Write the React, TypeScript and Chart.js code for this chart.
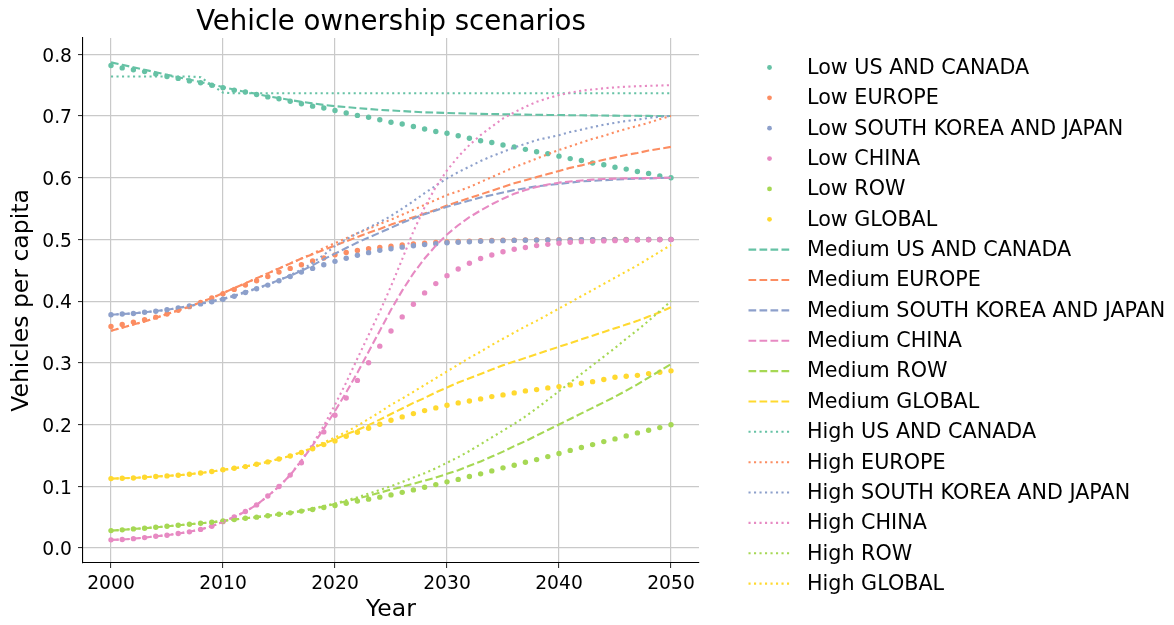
import React, { useEffect, useRef } from "react";
import { Chart, registerables } from "chart.js";

Chart.register(...registerables);

// ---- data -----------------------------------------------------------------
const YEARS = Array.from({ length: 51 }, (_, i) => 2000 + i);
const X_TICKS = [2000, 2010, 2020, 2030, 2040, 2050];
const Y_TICKS = [0, 0.1, 0.2, 0.3, 0.4, 0.5, 0.6, 0.7, 0.8];
const REGIONS = ["US AND CANADA", "EUROPE", "SOUTH KOREA AND JAPAN", "CHINA", "ROW", "GLOBAL"];
const SCENARIOS = ["Low", "Medium", "High"];

const LOW_US = [
  0.782, 0.778, 0.775, 0.772, 0.768, 0.764, 0.761, 0.757, 0.754, 0.750,
  0.746, 0.742, 0.739, 0.735, 0.731, 0.728, 0.724, 0.720, 0.716, 0.713,
  0.709, 0.705, 0.701, 0.698, 0.694, 0.690, 0.687, 0.683, 0.679, 0.675,
  0.672, 0.668, 0.664, 0.660, 0.657, 0.653, 0.650, 0.646, 0.642, 0.639,
  0.635, 0.631, 0.628, 0.624, 0.621, 0.617, 0.614, 0.610, 0.607, 0.603,
  0.600,
];
const LOW_EU = [
  0.359, 0.362, 0.366, 0.370, 0.374, 0.379, 0.385, 0.391, 0.398, 0.405,
  0.412, 0.419, 0.426, 0.433, 0.440, 0.447, 0.453, 0.459, 0.465, 0.470,
  0.475, 0.479, 0.482, 0.485, 0.487, 0.489, 0.491, 0.4925, 0.494, 0.495,
  0.496, 0.4967, 0.4973, 0.4978, 0.4982, 0.4986, 0.4988, 0.499, 0.4992, 0.4993,
  0.4994, 0.4995, 0.4996, 0.4997, 0.4997, 0.4998, 0.4998, 0.4999, 0.4999, 0.5,
  0.5,
];
const LOW_KR = [
  0.378, 0.379, 0.380, 0.382, 0.3835, 0.386, 0.389, 0.392, 0.3955, 0.399,
  0.403, 0.408, 0.414, 0.420, 0.426, 0.433, 0.440, 0.447, 0.453, 0.459,
  0.4645, 0.4694, 0.4743, 0.4786, 0.4823, 0.485, 0.4875, 0.4898, 0.4916, 0.493,
  0.4945, 0.4955, 0.4963, 0.497, 0.4976, 0.498, 0.4984, 0.4987, 0.4989, 0.4991,
  0.4992, 0.4993, 0.4994, 0.4995, 0.4996, 0.4997, 0.4997, 0.4998, 0.4998, 0.4999,
  0.5,
];
const LOW_CN = [
  0.013, 0.0135, 0.015, 0.0167, 0.0188, 0.0205, 0.0232, 0.026, 0.030, 0.035,
  0.0425, 0.050, 0.059, 0.0697, 0.084, 0.0994, 0.118, 0.138, 0.162, 0.188,
  0.215, 0.243, 0.2715, 0.300, 0.327, 0.3515, 0.3744, 0.3948, 0.4133, 0.4284,
  0.4413, 0.452, 0.4615, 0.469, 0.4748, 0.480, 0.484, 0.487, 0.490, 0.492,
  0.4937, 0.4953, 0.4964, 0.497, 0.4976, 0.498, 0.4987, 0.499, 0.4993, 0.4995,
  0.4997,
];
const LOW_ROW = [
  0.028, 0.0292, 0.0308, 0.0318, 0.0334, 0.035, 0.0367, 0.0383, 0.0399, 0.0415,
  0.0437, 0.0459, 0.048, 0.0498, 0.052, 0.0545, 0.0568, 0.0596, 0.0622, 0.0655,
  0.0688, 0.0723, 0.0758, 0.079, 0.0822, 0.0859, 0.090, 0.094, 0.0982, 0.1026,
  0.107, 0.111, 0.1156, 0.120, 0.1248, 0.1297, 0.134, 0.1388, 0.1431, 0.148,
  0.153, 0.158, 0.1626, 0.1674, 0.1723, 0.1767, 0.1815, 0.1864, 0.1906, 0.195,
  0.1995,
];
const LOW_GL = [
  0.1123, 0.1128, 0.1134, 0.1145, 0.1156, 0.1167, 0.1177, 0.1193, 0.1215, 0.1237,
  0.1266, 0.129, 0.1318, 0.1355, 0.1394, 0.1442, 0.149, 0.1545, 0.1607, 0.1674,
  0.1734, 0.181, 0.1874, 0.194, 0.2004, 0.2068, 0.2123, 0.2177, 0.2225, 0.2269,
  0.2311, 0.235, 0.2382, 0.2415, 0.2452, 0.248, 0.2512, 0.2545, 0.2566, 0.2593,
  0.2614, 0.2642, 0.2668, 0.2695, 0.273, 0.2765, 0.2781, 0.2797, 0.2825, 0.2846,
  0.287,
];

const MED_US = [
  0.787, 0.783, 0.779, 0.775, 0.771, 0.767, 0.763, 0.759, 0.755, 0.751,
  0.747, 0.743, 0.739, 0.736, 0.732, 0.729, 0.726, 0.723, 0.7205, 0.718,
  0.716, 0.7145, 0.713, 0.7115, 0.710, 0.709, 0.708, 0.707, 0.706, 0.7055,
  0.705, 0.7045, 0.704, 0.7035, 0.7032, 0.703, 0.7026, 0.7023, 0.702, 0.7018,
  0.7016, 0.7014, 0.7012, 0.701, 0.7008, 0.7006, 0.7005, 0.7004, 0.7002, 0.7001,
  0.700,
];
const MED_EU = [
  0.352, 0.357, 0.362, 0.367, 0.373, 0.379, 0.385, 0.391, 0.398, 0.405,
  0.413, 0.421, 0.429, 0.437, 0.445, 0.453, 0.461, 0.469, 0.476, 0.483,
  0.490, 0.497, 0.504, 0.511, 0.517, 0.524, 0.530, 0.536, 0.542, 0.548,
  0.555, 0.561, 0.567, 0.573, 0.579, 0.585, 0.591, 0.596, 0.601, 0.606,
  0.611, 0.616, 0.620, 0.625, 0.629, 0.633, 0.637, 0.640, 0.644, 0.647,
  0.650,
];
const MED_KR = [
  0.378, 0.379, 0.380, 0.382, 0.384, 0.386, 0.389, 0.392, 0.396, 0.400,
  0.404, 0.409, 0.415, 0.421, 0.427, 0.434, 0.441, 0.449, 0.458, 0.468,
  0.477, 0.486, 0.495, 0.503, 0.511, 0.519, 0.527, 0.534, 0.541, 0.547,
  0.553, 0.558, 0.563, 0.568, 0.572, 0.576, 0.580, 0.583, 0.586, 0.588,
  0.590, 0.592, 0.594, 0.595, 0.596, 0.597, 0.598, 0.5985, 0.599, 0.5995,
  0.600,
];
const MED_CN = [
  0.013, 0.0135, 0.015, 0.0167, 0.0188, 0.0205, 0.0232, 0.026, 0.030, 0.035,
  0.0425, 0.050, 0.059, 0.0697, 0.084, 0.0994, 0.118, 0.141, 0.166, 0.193,
  0.222, 0.252, 0.284, 0.318, 0.352, 0.386, 0.417, 0.445, 0.469, 0.490,
  0.508, 0.523, 0.536, 0.547, 0.557, 0.566, 0.574, 0.580, 0.585, 0.589,
  0.592, 0.594, 0.5955, 0.597, 0.598, 0.5985, 0.599, 0.5993, 0.5996, 0.5998,
  0.600,
];
const MED_ROW = [
  0.028, 0.0292, 0.0308, 0.0318, 0.0334, 0.035, 0.0367, 0.0383, 0.0399, 0.0415,
  0.0437, 0.0459, 0.048, 0.0498, 0.052, 0.0545, 0.0568, 0.0598, 0.063, 0.067,
  0.071, 0.0755, 0.080, 0.0845, 0.0895, 0.0945, 0.099, 0.104, 0.109, 0.114,
  0.120, 0.126, 0.133, 0.140, 0.148, 0.156, 0.165, 0.173, 0.182, 0.191,
  0.200, 0.209, 0.218, 0.227, 0.236, 0.245, 0.255, 0.265, 0.276, 0.287,
  0.298,
];
const MED_GL = [
  0.1123, 0.1128, 0.1134, 0.1145, 0.1156, 0.1167, 0.1177, 0.1193, 0.1215, 0.1237,
  0.1266, 0.129, 0.1318, 0.1355, 0.1394, 0.1442, 0.149, 0.155, 0.162, 0.169,
  0.176, 0.184, 0.191, 0.199, 0.208, 0.217, 0.226, 0.235, 0.243, 0.252,
  0.260, 0.268, 0.275, 0.282, 0.289, 0.296, 0.302, 0.308, 0.314, 0.320,
  0.326, 0.332, 0.338, 0.344, 0.350, 0.356, 0.362, 0.368, 0.375, 0.382,
  0.390,
];

const HIGH_US = [
  0.764, 0.764, 0.764, 0.764, 0.764, 0.764, 0.764, 0.764, 0.763, 0.750,
  0.738, 0.737, 0.737, 0.737, 0.737, 0.737, 0.737, 0.737, 0.737, 0.737,
  0.737, 0.737, 0.737, 0.737, 0.737, 0.737, 0.737, 0.737, 0.737, 0.737,
  0.737, 0.737, 0.737, 0.737, 0.737, 0.737, 0.737, 0.737, 0.737, 0.737,
  0.737, 0.737, 0.737, 0.737, 0.737, 0.737, 0.737, 0.737, 0.737, 0.737,
  0.737,
];
const HIGH_EU = [
  0.352, 0.357, 0.362, 0.367, 0.373, 0.379, 0.385, 0.391, 0.398, 0.405,
  0.413, 0.421, 0.429, 0.437, 0.445, 0.453, 0.461, 0.469, 0.477, 0.486,
  0.494, 0.502, 0.510, 0.517, 0.525, 0.532, 0.540, 0.548, 0.556, 0.564,
  0.572, 0.578, 0.585, 0.593, 0.601, 0.609, 0.617, 0.624, 0.631, 0.638,
  0.645, 0.651, 0.657, 0.663, 0.668, 0.674, 0.679, 0.684, 0.689, 0.695,
  0.700,
];
const HIGH_KR = [
  0.378, 0.379, 0.380, 0.382, 0.3835, 0.386, 0.389, 0.392, 0.3955, 0.399,
  0.403, 0.408, 0.414, 0.420, 0.426, 0.434, 0.442, 0.451, 0.462, 0.475,
  0.489, 0.500, 0.510, 0.519, 0.528, 0.538, 0.550, 0.562, 0.575, 0.587,
  0.599, 0.609, 0.618, 0.627, 0.635, 0.642, 0.649, 0.655, 0.661, 0.665,
  0.669, 0.674, 0.678, 0.682, 0.686, 0.689, 0.692, 0.694, 0.697, 0.699,
  0.700,
];
const HIGH_CN = [
  0.013, 0.0135, 0.015, 0.0167, 0.0188, 0.0205, 0.0232, 0.026, 0.030, 0.035,
  0.0425, 0.050, 0.059, 0.0697, 0.084, 0.0994, 0.118, 0.142, 0.168, 0.198,
  0.232, 0.268, 0.307, 0.345, 0.383, 0.424, 0.468, 0.513, 0.552, 0.585,
  0.612, 0.634, 0.653, 0.669, 0.683, 0.696, 0.706, 0.715, 0.723, 0.729,
  0.734, 0.738, 0.741, 0.743, 0.745, 0.7465, 0.7475, 0.7483, 0.749, 0.7495,
  0.750,
];
const HIGH_ROW = [
  0.028, 0.0292, 0.0308, 0.0318, 0.0334, 0.035, 0.0367, 0.0383, 0.0399, 0.0415,
  0.0437, 0.0459, 0.048, 0.0498, 0.052, 0.0545, 0.0568, 0.0598, 0.064, 0.068,
  0.072, 0.077, 0.082, 0.088, 0.094, 0.100, 0.107, 0.114, 0.121, 0.129,
  0.138, 0.147, 0.157, 0.168, 0.179, 0.190, 0.201, 0.213, 0.226, 0.240,
  0.254, 0.268, 0.282, 0.296, 0.310, 0.324, 0.339, 0.353, 0.368, 0.384,
  0.400,
];
const HIGH_GL = [
  0.1123, 0.1128, 0.1134, 0.1145, 0.1156, 0.1167, 0.1177, 0.1193, 0.1215, 0.1237,
  0.1266, 0.129, 0.1318, 0.1355, 0.1394, 0.1442, 0.149, 0.155, 0.163, 0.171,
  0.179, 0.188, 0.198, 0.209, 0.220, 0.232, 0.242, 0.253, 0.264, 0.275,
  0.286, 0.297, 0.308, 0.318, 0.329, 0.339, 0.349, 0.359, 0.368, 0.378,
  0.388, 0.398, 0.408, 0.418, 0.428, 0.438, 0.448, 0.458, 0.469, 0.480,
  0.491,
];

const LOW = [LOW_US, LOW_EU, LOW_KR, LOW_CN, LOW_ROW, LOW_GL];
const MEDIUM = [MED_US, MED_EU, MED_KR, MED_CN, MED_ROW, MED_GL];
const HIGH = [HIGH_US, HIGH_EU, HIGH_KR, HIGH_CN, HIGH_ROW, HIGH_GL];

// Set2 palette, one colour per region
const COLORS = ["#66c2a5", "#fc8d62", "#8da0cb", "#e78ac3", "#a6d854", "#ffd92f"];

// ---- styling --------------------------------------------------------------
const FONT = "'DejaVu Sans', 'Liberation Sans', sans-serif";
const LINE_W = 2.1;
const DASHED = [7.7, 3.3];
const DOTTED = [2.1, 3.4];
const DOT_R = 2.7;

const LEGEND = {
  top: 67.5,
  step: 30.36,
  markerX: 769.5,
  lineX0: 748.5,
  lineX1: 790,
  textX: 807,
  fontSize: 20.7,
};

type Style = "dots" | "dashed" | "dotted";

function buildDatasets() {
  const groups: [string, number[][], Style][] = [
    [SCENARIOS[0], LOW, "dots"],
    [SCENARIOS[1], MEDIUM, "dashed"],
    [SCENARIOS[2], HIGH, "dotted"],
  ];
  const out: any[] = [];
  groups.forEach(([scenario, sets, style]) => {
    sets.forEach((vals, r) => {
      const color = COLORS[r];
      const base: any = {
        label: `${scenario} ${REGIONS[r]}`,
        data: YEARS.map((x, k) => ({ x, y: vals[k] })),
        borderColor: color,
        backgroundColor: color,
        styleKind: style,
      };
      if (style === "dots") {
        Object.assign(base, {
          showLine: false,
          pointRadius: DOT_R,
          pointHoverRadius: DOT_R,
          pointBorderWidth: 0,
          pointBackgroundColor: color,
        });
      } else {
        Object.assign(base, {
          showLine: true,
          borderWidth: LINE_W,
          borderDash: style === "dashed" ? DASHED : DOTTED,
          borderCapStyle: "butt",
          borderJoinStyle: "round",
          pointRadius: 0,
          pointHoverRadius: 0,
          tension: 0,
          fill: false,
        });
      }
      out.push(base);
    });
  });
  // later series sit on top of earlier ones
  out.forEach((d, i) => (d.order = out.length - i));
  return out;
}

const sideLegend = {
  id: "sideLegend",
  afterDraw(chart: any) {
    const { ctx } = chart;
    ctx.save();
    ctx.font = `${LEGEND.fontSize}px ${FONT}`;
    ctx.textBaseline = "middle";
    ctx.textAlign = "left";
    chart.data.datasets.forEach((ds: any, i: number) => {
      const y = LEGEND.top + i * LEGEND.step;
      if (ds.styleKind === "dots") {
        ctx.beginPath();
        ctx.fillStyle = ds.backgroundColor;
        ctx.arc(LEGEND.markerX, y, 2.4, 0, Math.PI * 2);
        ctx.fill();
      } else {
        ctx.beginPath();
        ctx.strokeStyle = ds.borderColor;
        ctx.lineWidth = LINE_W;
        ctx.lineCap = "butt";
        ctx.setLineDash(ds.borderDash);
        ctx.moveTo(LEGEND.lineX0, y);
        ctx.lineTo(LEGEND.lineX1, y);
        ctx.stroke();
        ctx.setLineDash([]);
      }
      ctx.fillStyle = "#000";
      ctx.fillText(ds.label, LEGEND.textX, y + 1);
    });
    ctx.restore();
  },
};

export default function App() {
  const ref = useRef<HTMLCanvasElement | null>(null);

  useEffect(() => {
    if (!ref.current) return;
    const tickFont = { family: FONT, size: 18.7 };
    const labelFont = { family: FONT, size: 23.5 };
    const chart = new Chart(ref.current, {
      type: "line",
      data: { datasets: buildDatasets() },
      plugins: [sideLegend],
      options: {
        animation: false,
        responsive: false,
        devicePixelRatio: 1,
        events: [],
        layout: { padding: { left: 0, right: 475, top: 0, bottom: 0 } },
        plugins: {
          legend: { display: false },
          tooltip: { enabled: false },
          title: {
            display: true,
            text: "Vehicle ownership scenarios",
            fullSize: false,
            color: "#000",
            font: { family: FONT, size: 27.6, weight: "normal", lineHeight: 1.0 },
            padding: { top: 9.4, bottom: 1.0 },
          },
        },
        scales: {
          x: {
            type: "linear",
            min: 1997.5,
            max: 2052.5,
            afterBuildTicks: (s: any) => {
              s.ticks = X_TICKS.map((v) => ({ value: v }));
            },
            afterFit: (s: any) => {
              s.height = 62;
            },
            ticks: {
              color: "#000",
              font: tickFont,
              padding: 5,
              maxRotation: 0,
              autoSkip: false,
              callback: (v: any) => String(v),
            },
            grid: {
              color: "#c9c9c9",
              lineWidth: 1.2,
              tickLength: 5,
              tickColor: "#222",
              tickWidth: 1,
            },
            border: { display: true, color: "#000", width: 1.1 },
            title: {
              display: true,
              text: "Year",
              color: "#000",
              font: labelFont,
              padding: { top: 0, bottom: 1 },
            },
          },
          y: {
            type: "linear",
            min: -0.0245,
            max: 0.8265,
            afterBuildTicks: (s: any) => {
              s.ticks = Y_TICKS.map((v) => ({ value: v }));
            },
            afterFit: (s: any) => {
              s.width = 83;
            },
            ticks: {
              color: "#000",
              font: tickFont,
              padding: 6,
              labelOffset: 2.5,
              autoSkip: false,
              callback: (v: any) => Number(v).toFixed(1),
            },
            grid: {
              color: "#c9c9c9",
              lineWidth: 1.2,
              tickLength: 5,
              tickColor: "#222",
              tickWidth: 1,
            },
            border: { display: true, color: "#000", width: 1.1 },
            title: {
              display: true,
              text: "Vehicles per capita",
              color: "#000",
              font: labelFont,
              padding: { top: 8, bottom: 0 },
            },
          },
        },
      } as any,
    });
    return () => chart.destroy();
  }, []);

  return (
    <div
      style={{
        position: "fixed",
        left: 0,
        top: 0,
        width: 1174,
        height: 625,
        background: "#fff",
      }}
    >
      <canvas ref={ref} width={1174} height={625} style={{ display: "block" }} />
    </div>
  );
}
